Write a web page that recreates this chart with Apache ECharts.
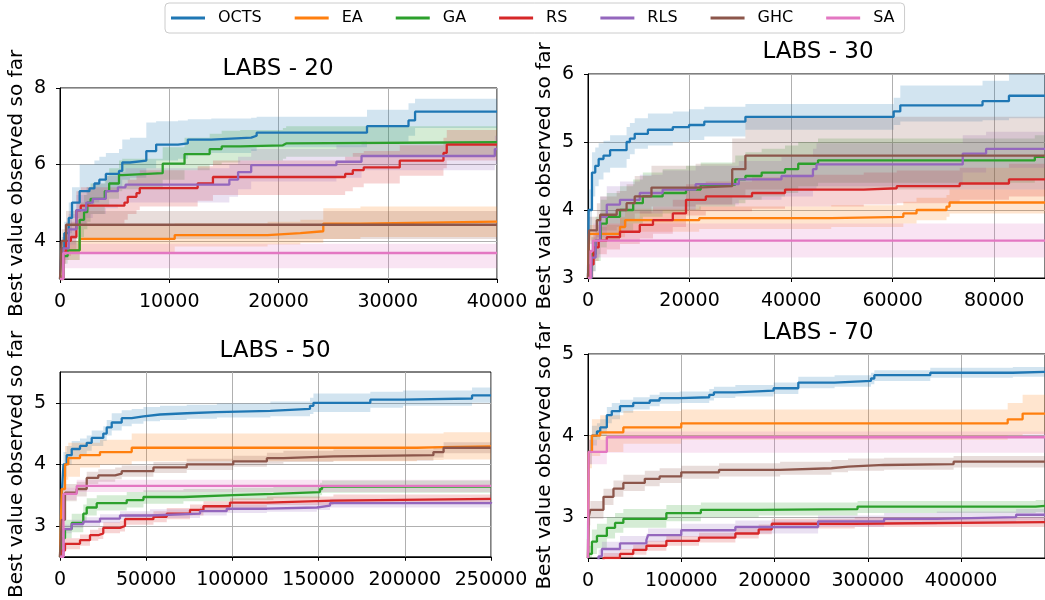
<!DOCTYPE html>
<html>
<head>
<meta charset="utf-8">
<script src="https://cdn.jsdelivr.net/npm/echarts@6/dist/echarts.min.js"></script>
<style>
  html, body { margin: 0; background: #fff; }
  #main { width: 1045px; height: 600px; }
</style>
</head>
<body>
<div id="main"></div>
<script>
// algorithms, in plotting order
var names = ['OCTS', 'EA', 'GA', 'RS', 'RLS', 'GHC', 'SA'];
var colors = ['#1f77b4', '#ff7f0e', '#2ca02c', '#d62728', '#9467bd', '#8c564b', '#e377c2'];
var titles = ['LABS - 20', 'LABS - 30', 'LABS - 50', 'LABS - 70'];

// each point: [evaluations, best value, band low, band high]  (step held until next point)
// ---- LABS - 20
var l20_octs = [[0,3.0,2.9,3.1],[150,3.8,3.5,4.1],[400,4.2,3.9,4.5],[800,4.6,4.2,5.0],[1100,5.0,4.6,5.4],[1800,5.3,4.8,6.0],[2700,5.37,4.9,6.0],[3150,5.5,5.0,6.1],[3600,5.6,5.1,6.2],[4200,5.75,5.3,6.3],[5400,5.83,5.4,6.4],[5700,6.05,5.6,6.65],[6400,6.1,5.65,6.7],[7900,6.35,5.9,7.1],[8800,6.52,6.1,7.13],[10800,6.55,6.15,7.15],[11700,6.65,6.25,7.18],[13850,6.7,6.3,7.2],[17500,6.75,6.35,7.22],[18000,6.83,6.45,7.25],[28100,7.0,6.6,7.43],[31900,7.15,6.75,7.6],[32500,7.38,6.95,7.72],[40000,7.38,6.95,7.72]];
var l20_ea = [[0,3.0,2.9,3.1],[250,3.75,3.5,4.0],[1800,4.05,3.7,4.4],[10500,4.15,3.85,4.45],[19000,4.2,3.9,4.5],[22000,4.25,3.95,4.55],[24100,4.45,4.05,4.85],[27500,4.5,4.1,4.9],[40000,4.5,4.1,4.9]];
var l20_ga = [[0,3.0,2.9,3.1],[300,3.6,3.4,3.8],[700,3.75,3.5,4.0],[1800,4.55,4.1,5.0],[2200,4.75,4.3,5.2],[2500,5.0,4.5,5.4],[2800,5.1,4.7,5.5],[4100,5.3,4.9,5.7],[4500,5.5,5.1,5.9],[5400,5.72,5.3,6.1],[5700,5.77,5.35,6.15],[9400,6.02,5.6,6.45],[11400,6.27,5.85,6.7],[13700,6.4,6.0,6.8],[14800,6.47,6.05,6.88],[16500,6.5,6.1,6.9],[20400,6.55,6.15,6.95],[20700,6.58,6.2,7.0],[40000,6.58,6.2,7.0]];
var l20_rs = [[0,3.0,2.9,3.1],[300,3.7,3.4,4.0],[550,4.0,3.6,4.4],[1000,4.1,3.7,4.5],[1500,4.8,4.3,5.3],[1900,4.92,4.45,5.4],[5900,5.0,4.55,5.45],[6200,5.15,4.7,5.6],[7000,5.25,4.8,5.7],[7300,5.38,4.9,5.85],[12600,5.5,5.05,5.95],[14000,5.67,5.2,6.1],[26100,5.75,5.3,6.2],[26800,5.85,5.4,6.3],[27800,5.92,5.5,6.35],[31100,6.1,5.7,6.5],[35100,6.3,5.9,6.7],[35400,6.52,6.1,6.9],[40000,6.52,6.1,6.9]];
var l20_rls = [[0,3.0,2.9,3.1],[300,3.8,3.5,4.1],[800,4.3,3.9,4.7],[1500,4.8,4.4,5.2],[2400,5.0,4.6,5.4],[3000,5.1,4.7,5.5],[4200,5.3,4.85,5.7],[5300,5.4,4.95,5.8],[6000,5.47,5.0,5.9],[15500,5.6,5.15,6.0],[16300,5.8,5.35,6.2],[17500,5.98,5.55,6.4],[25300,6.07,5.65,6.5],[27600,6.22,5.85,6.6],[39800,6.4,6.0,6.75],[40000,6.4,6.0,6.75]];
var l20_ghc = [[0,3.0,2.9,3.1],[150,4.0,3.7,4.3],[550,4.42,4.05,4.78],[40000,4.42,4.05,4.78]];
var l20_sa = [[0,3.0,2.9,3.1],[300,3.68,3.28,3.92],[40000,3.68,3.28,3.92]];

// ---- LABS - 30
var l30_octs = [[0,3.0,2.95,3.05],[130,4.0,3.7,4.3],[780,4.55,4.2,4.85],[1430,4.65,4.35,4.92],[2100,4.75,4.45,4.98],[3050,4.8,4.55,5.02],[4350,4.88,4.62,5.1],[7600,5.0,4.75,5.22],[8250,5.05,4.82,5.28],[9200,5.12,4.9,5.35],[11800,5.18,4.95,5.42],[16700,5.22,5.0,5.45],[19900,5.25,5.03,5.48],[22900,5.3,5.08,5.52],[31000,5.37,5.18,5.56],[60200,5.45,5.25,5.65],[61500,5.54,5.3,5.83],[77700,5.6,5.32,5.9],[82900,5.68,5.35,6.05],[90000,5.68,5.35,6.05]];
var l30_ea = [[0,3.0,2.95,3.05],[200,3.65,3.55,3.78],[6300,3.75,3.6,3.9],[7300,3.85,3.68,4.02],[21900,3.88,3.72,4.05],[47900,3.9,3.75,4.07],[62100,3.95,3.8,4.12],[64700,4.0,3.85,4.18],[70600,4.05,3.9,4.22],[71200,4.11,3.95,4.3],[90000,4.11,3.95,4.3]];
var l30_ga = [[0,3.0,2.95,3.05],[700,3.35,3.1,3.6],[1500,3.55,3.25,3.9],[2500,3.8,3.45,4.15],[3700,3.9,3.55,4.25],[6300,4.0,3.7,4.35],[8900,4.1,3.8,4.45],[10800,4.2,3.9,4.55],[14700,4.25,3.95,4.6],[19300,4.3,4.0,4.65],[22200,4.37,4.05,4.7],[29000,4.45,4.1,4.8],[31000,4.5,4.15,4.85],[34200,4.55,4.2,4.9],[38800,4.6,4.25,4.95],[41400,4.68,4.35,5.0],[45300,4.73,4.4,5.05],[88000,4.78,4.45,5.1],[90000,4.78,4.45,5.1]];
var l30_rs = [[0,3.0,2.95,3.05],[450,3.2,3.0,3.4],[1100,3.45,3.25,3.65],[2100,3.55,3.35,3.75],[3700,3.6,3.42,3.8],[6300,3.68,3.5,3.88],[10200,3.78,3.58,3.98],[12800,3.85,3.65,4.05],[16700,3.95,3.75,4.15],[19300,4.15,3.92,4.38],[23200,4.2,3.98,4.42],[32300,4.25,4.02,4.48],[38800,4.3,4.05,4.52],[54300,4.32,4.08,4.55],[60800,4.35,4.1,4.58],[73200,4.39,4.15,4.62],[82900,4.45,4.2,4.68],[90000,4.45,4.2,4.68]];
var l30_rls = [[0,3.0,2.95,3.05],[700,3.3,3.1,3.55],[1500,3.55,3.3,3.85],[2400,3.9,3.6,4.2],[3700,4.08,3.8,4.35],[6300,4.15,3.88,4.42],[10200,4.25,3.95,4.52],[14700,4.3,4.0,4.58],[21200,4.38,4.08,4.65],[29700,4.45,4.15,4.72],[38100,4.5,4.2,4.78],[44300,4.6,4.3,4.9],[45000,4.67,4.35,4.98],[73800,4.83,4.55,5.1],[78400,4.9,4.62,5.15],[90000,4.9,4.62,5.15]];
var l30_ghc = [[0,3.0,2.95,3.05],[200,3.7,3.5,3.9],[1750,3.85,3.6,4.1],[2400,3.93,3.7,4.2],[5650,4.0,3.75,4.28],[7600,4.1,3.85,4.38],[9200,4.2,3.95,4.5],[12500,4.33,4.05,4.65],[21200,4.35,4.08,4.68],[28400,4.6,4.2,5.05],[31000,4.8,4.3,5.37],[90000,4.8,4.3,5.37]];
var l30_sa = [[0,3.0,2.95,3.05],[500,3.4,3.2,3.6],[1000,3.55,3.3,3.8],[90000,3.55,3.3,3.8]];

// ---- LABS - 50
var l50_octs = [[0,2.5,2.45,2.55],[1000,3.5,3.3,3.7],[2000,4.0,3.8,4.2],[3900,4.15,4.0,4.3],[6800,4.25,4.12,4.38],[11600,4.3,4.17,4.42],[15500,4.35,4.22,4.47],[18400,4.43,4.3,4.55],[25100,4.5,4.38,4.62],[27100,4.6,4.47,4.72],[30000,4.68,4.55,4.83],[35800,4.75,4.62,4.88],[41600,4.78,4.66,4.9],[48400,4.81,4.7,4.93],[58000,4.83,4.72,4.95],[73500,4.85,4.74,4.97],[91000,4.87,4.76,4.99],[122000,4.9,4.78,5.02],[145000,4.95,4.82,5.08],[147000,5.0,4.85,5.15],[180000,5.05,4.92,5.18],[199000,5.07,4.95,5.2],[239000,5.12,5.0,5.25],[250000,5.12,5.0,5.25]];
var l50_ea = [[0,2.5,2.45,2.55],[1000,3.6,3.4,3.9],[2900,4.0,3.75,4.3],[4800,4.1,3.8,4.35],[11600,4.15,3.95,4.35],[23200,4.2,4.0,4.4],[41600,4.27,4.05,4.5],[207000,4.28,4.07,4.5],[222500,4.29,4.08,4.52],[250000,4.29,4.08,4.52]];
var l50_ga = [[0,2.5,2.45,2.55],[1000,2.8,2.65,2.95],[2900,2.95,2.8,3.1],[6800,3.05,2.9,3.2],[13500,3.2,3.07,3.35],[15500,3.3,3.17,3.45],[21300,3.37,3.25,3.5],[38700,3.42,3.3,3.55],[48400,3.47,3.36,3.58],[71600,3.5,3.4,3.6],[100500,3.52,3.42,3.62],[123800,3.55,3.45,3.65],[150800,3.6,3.5,3.7],[152000,3.64,3.54,3.74],[250000,3.64,3.54,3.74]];
var l50_rs = [[0,2.5,2.45,2.55],[1000,2.6,2.5,2.7],[2900,2.71,2.62,2.8],[11600,2.77,2.68,2.86],[17400,2.85,2.76,2.94],[22200,2.88,2.79,2.97],[25100,2.97,2.88,3.06],[34800,3.0,2.91,3.09],[37700,3.11,3.02,3.2],[54200,3.15,3.06,3.24],[61900,3.2,3.11,3.29],[75400,3.26,3.17,3.35],[83200,3.32,3.24,3.4],[98600,3.38,3.3,3.45],[120000,3.41,3.34,3.48],[158600,3.44,3.37,3.51],[250000,3.44,3.37,3.51]];
var l50_rls = [[0,2.5,2.45,2.55],[2000,2.95,2.88,3.02],[6800,3.03,2.97,3.1],[13500,3.07,3.0,3.14],[23200,3.12,3.05,3.19],[34800,3.17,3.1,3.24],[52200,3.2,3.13,3.27],[81200,3.24,3.17,3.31],[96700,3.28,3.21,3.35],[120000,3.3,3.23,3.37],[149000,3.33,3.26,3.4],[156600,3.37,3.3,3.44],[250000,3.39,3.32,3.46]];
var l50_ghc = [[0,2.5,2.45,2.55],[1000,3.1,2.9,3.3],[2900,3.54,3.4,3.68],[9700,3.6,3.48,3.72],[15500,3.78,3.68,3.88],[22200,3.82,3.72,3.92],[32000,3.85,3.76,3.95],[35800,3.89,3.8,3.98],[54200,3.95,3.86,4.04],[73500,4.0,3.91,4.09],[100500,4.05,3.96,4.14],[120000,4.1,4.01,4.19],[129600,4.13,4.04,4.22],[158600,4.15,4.06,4.24],[216600,4.2,4.11,4.29],[222500,4.27,4.18,4.36],[250000,4.27,4.18,4.36]];
var l50_sa = [[0,2.5,2.45,2.55],[2000,3.52,3.42,3.62],[9700,3.65,3.55,3.75],[250000,3.65,3.55,3.77]];

// ---- LABS - 70
var l70_octs = [[0,2.5,2.45,2.55],[300,3.6,3.45,3.75],[700,3.8,3.65,3.95],[4200,4.0,3.88,4.12],[9600,4.05,3.95,4.15],[13100,4.1,4.0,4.2],[20200,4.25,4.15,4.35],[25500,4.3,4.2,4.4],[34300,4.36,4.28,4.44],[48500,4.4,4.32,4.47],[66200,4.43,4.36,4.5],[76800,4.46,4.39,4.53],[98200,4.47,4.4,4.54],[130000,4.5,4.43,4.57],[135000,4.53,4.46,4.6],[158000,4.55,4.48,4.62],[199000,4.58,4.51,4.65],[225500,4.65,4.58,4.72],[264400,4.67,4.6,4.74],[303400,4.7,4.63,4.77],[307000,4.74,4.67,4.8],[367000,4.77,4.71,4.83],[455500,4.78,4.72,4.84],[490000,4.78,4.72,4.84]];
var l70_ea = [[0,2.5,2.45,2.55],[700,3.8,3.6,4.0],[4200,4.0,3.75,4.2],[13100,4.04,3.8,4.25],[37900,4.1,3.9,4.3],[100000,4.15,3.95,4.32],[450000,4.2,4.0,4.4],[466000,4.27,4.02,4.5],[490000,4.27,4.02,4.5]];
var l70_ga = [[0,2.5,2.45,2.55],[700,2.55,2.45,2.65],[4200,2.7,2.55,2.85],[9600,2.77,2.62,2.92],[20200,2.87,2.74,3.0],[29000,2.93,2.81,3.05],[37900,2.98,2.87,3.1],[84000,3.05,2.95,3.15],[121000,3.09,3.0,3.18],[183000,3.1,3.02,3.18],[289000,3.13,3.05,3.2],[480000,3.14,3.06,3.21],[490000,3.14,3.06,3.21]];
var l70_rs = [[0,2.3,2.2,2.4],[16600,2.5,2.45,2.56],[34300,2.55,2.49,2.61],[48500,2.6,2.54,2.66],[62600,2.65,2.59,2.71],[84000,2.71,2.65,2.77],[119000,2.75,2.69,2.81],[158000,2.8,2.74,2.86],[183000,2.85,2.79,2.91],[197000,2.92,2.86,2.98],[286000,2.94,2.88,3.0],[490000,2.94,2.88,3.0]];
var l70_rls = [[0,2.3,2.2,2.4],[11300,2.52,2.45,2.6],[14900,2.61,2.52,2.7],[34300,2.68,2.6,2.77],[62600,2.72,2.64,2.8],[64400,2.78,2.7,2.86],[100000,2.84,2.76,2.92],[158000,2.88,2.8,2.96],[246700,2.95,2.88,3.02],[317500,2.98,2.91,3.05],[374000,3.0,2.93,3.07],[459000,3.03,2.96,3.1],[490000,3.03,2.96,3.1]];
var l70_ghc = [[0,2.5,2.45,2.55],[700,3.0,2.9,3.1],[2500,3.09,2.98,3.2],[16600,3.25,3.15,3.35],[27300,3.35,3.25,3.45],[37900,3.42,3.32,3.52],[60900,3.47,3.38,3.57],[76800,3.5,3.42,3.6],[100000,3.55,3.47,3.63],[140500,3.58,3.5,3.66],[206000,3.6,3.52,3.68],[261000,3.62,3.55,3.7],[278800,3.64,3.57,3.72],[317500,3.65,3.58,3.73],[392000,3.68,3.61,3.75],[490000,3.68,3.61,3.75]];
var l70_sa = [[0,2.5,2.45,2.55],[700,3.8,3.65,3.95],[20200,3.98,3.79,4.05],[490000,3.98,3.79,4.05]];

var runs = [
  [l20_octs, l20_ea, l20_ga, l20_rs, l20_rls, l20_ghc, l20_sa],
  [l30_octs, l30_ea, l30_ga, l30_rs, l30_rls, l30_ghc, l30_sa],
  [l50_octs, l50_ea, l50_ga, l50_rs, l50_rls, l50_ghc, l50_sa],
  [l70_octs, l70_ea, l70_ga, l70_rs, l70_rls, l70_ghc, l70_sa]
];

// axis ranges and ticks
var xMax = [40000, 90000, 250000, 490000];
var xStep = [10000, 20000, 50000, 100000];
var yMin = [3, 3, 2.5, 2.5];
var yMax = [8, 6, 5.5, 5];
var yTicks = [[4, 6, 8], [3, 4, 5, 6], [3, 4, 5], [3, 4, 5]];

var font = 'DejaVu Sans';
var chart = echarts.init(document.getElementById('main'), null, { renderer: 'canvas' });

var grids = [
  { left: 60, top: 88, width: 437, height: 191 },
  { left: 588, top: 74, width: 462, height: 204 },
  { left: 60, top: 372, width: 431, height: 189 },
  { left: 588, top: 354, width: 462, height: 204 }
];
grids.forEach(function (g) { g.show = true; g.borderColor = '#000'; g.borderWidth = 1; g.containLabel = false; });

var titlePos = [[278, 58], [818, 41], [275, 340], [818, 322]];

function bandRender(pts, color) {
  return function (params, api) {
    var top = [], bot = [];
    for (var i = 0; i < pts.length; i++) {
      var xa = pts[i][0];
      var xb = i + 1 < pts.length ? pts[i + 1][0] : pts[i][0];
      top.push(api.coord([xa, pts[i][3]]), api.coord([xb, pts[i][3]]));
      bot.push(api.coord([xa, pts[i][2]]), api.coord([xb, pts[i][2]]));
    }
    return {
      type: 'polygon',
      shape: { points: top.concat(bot.reverse()) },
      style: { fill: echarts.color.modifyAlpha(color, 0.2) }
    };
  };
}

var xAxes = [], yAxes = [], series = [], titleList = [];
for (var p = 0; p < 4; p++) {
  xAxes.push({
    type: 'value', gridIndex: p, min: 0, max: xMax[p], interval: xStep[p],
    axisLine: { show: true, lineStyle: { color: '#000' } },
    axisTick: { show: true, length: 4, lineStyle: { color: '#000' } },
    axisLabel: {
      fontSize: 19, fontFamily: font, color: '#000', margin: 14,
      showMaxLabel: p === 0 || p === 2,
      formatter: function (v) { return String(v); }
    },
    splitLine: { show: true, lineStyle: { color: '#b0b0b0', width: 1 } }
  });
  yAxes.push({
    type: 'value', gridIndex: p, min: yMin[p], max: yMax[p],
    name: 'Best value observed so far', nameLocation: 'middle', nameGap: 33, nameRotate: 90,
    nameTextStyle: { fontSize: 20, fontFamily: font, color: '#000' },
    axisLine: { show: true, lineStyle: { color: '#000' } },
    axisTick: { show: true, length: 4, lineStyle: { color: '#000' }, customValues: yTicks[p] },
    axisLabel: { fontSize: 19, fontFamily: font, color: '#000', margin: 14, customValues: yTicks[p] },
    splitLine: { show: true, lineStyle: { color: '#b0b0b0', width: 1 } }
  });
  titleList.push({
    text: titles[p], left: titlePos[p][0], top: titlePos[p][1], textAlign: 'center', padding: 0,
    textStyle: { fontSize: 23, fontWeight: 'normal', fontFamily: font, color: '#000' }
  });
  for (var k = 0; k < names.length; k++) {
    var pts = runs[p][k];
    series.push({
      type: 'custom', name: names[k] + ' band', xAxisIndex: p, yAxisIndex: p,
      clip: true, silent: true, z: 1,
      renderItem: bandRender(pts, colors[k]),
      data: [[0, yMin[p]]]
    });
    series.push({
      type: 'line', name: names[k], xAxisIndex: p, yAxisIndex: p,
      step: 'end', symbol: 'none', showSymbol: false, z: 3,
      color: colors[k],
      lineStyle: { width: 2.3, color: colors[k] },
      data: pts.map(function (d) { return [d[0], d[1]]; })
    });
  }
}

chart.setOption({
  animation: false,
  backgroundColor: '#fff',
  title: titleList,
  legend: {
    data: names, top: 3, left: 165, orient: 'horizontal',
    padding: [7, 10, 7, 6], itemWidth: 34, itemHeight: 3, itemGap: 33,
    icon: 'rect',
    borderColor: '#ccc', borderWidth: 1, borderRadius: 4,
    selectedMode: false,
    textStyle: { fontSize: 16, fontFamily: font, color: '#000', padding: [0, 0, 0, 8] }
  },
  grid: grids,
  xAxis: xAxes,
  yAxis: yAxes,
  series: series
});
</script>
</body>
</html>
